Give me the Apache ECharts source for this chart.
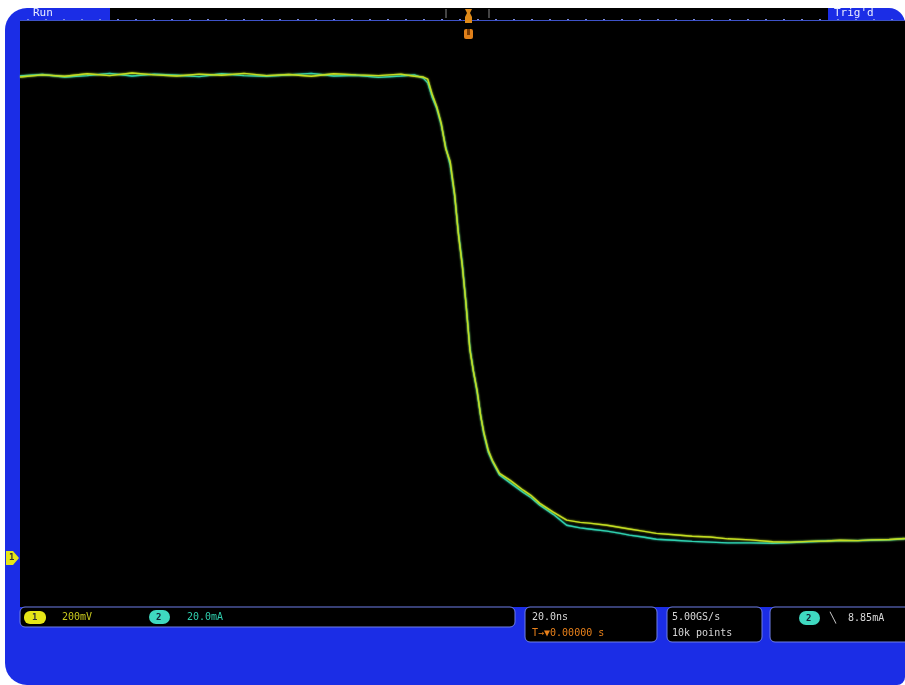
<!DOCTYPE html>
<html>
<head>
<meta charset="utf-8">
<script src="https://cdn.jsdelivr.net/npm/echarts@6/dist/echarts.min.js"></script>
<style>html,body{margin:0;padding:0;background:#fff;}#c{width:905px;height:685px;}</style>
</head>
<body>
<div id="c"></div>
<script>
// time axis (ns), 20 ns/div, trigger at 0
const timeNs = [-100,-95,-90,-85,-80,-75,-70,-65,-60,-55,-50,-45,-40,-35,-30,-25,-20,-15,-12,-10,-9,-8,-7,-6,-5,-4,-3,-2.2,-1.3,-0.5,0.4,1.2,2,2.8,3.5,4.5,5.4,7,9.4,12.3,14,16,19,22,25,27,31,34,36,39,42,46,50,54,58,63,68,72,76,80,83,87,90,94,97.5];
// channel 1 (mV, 200 mV/div)
const ch1mV = [1316,1322,1318,1325,1320,1327,1322,1319,1324,1321,1326,1320,1323,1318,1325,1322,1320,1324,1318,1316,1310,1268,1235,1190,1120,1085,995,890,800,700,570,510,460,390,345,295,268,232,213,186,172,150,126,104,98,96,90,84,80,74,68,64,60,58,53,50,45,44,46,47,49,48,50,51,54];
// channel 2 (mA, 20 mA/div)
const ch2mA = [131.9,132.3,131.6,132.0,132.6,131.9,132.4,132.1,131.7,132.5,132.0,131.8,132.2,132.6,131.9,132.1,131.5,131.9,132.2,131.3,130.0,126.0,123.0,118.5,112.5,107.5,99.0,89.5,80.5,70.0,57.5,51.0,45.5,39.0,34.0,29.0,26.5,22.8,20.6,18.0,16.6,14.5,12.0,9.0,8.3,8.0,7.4,6.8,6.3,5.8,5.2,4.9,4.6,4.4,4.2,4.2,4.1,4.3,4.5,4.7,4.8,4.8,4.9,5.0,5.3];
// readouts
const statusLeft = 'Run';
const statusRight = "Trig'd";
const ch1Scale = '200mV';
const ch2Scale = '20.0mA';
const timeScale = '20.0ns';
const trigPos = 'T\u2192\u25BC0.00000 s';
const sampleRate = '5.00GS/s';
const recordLen = '10k points';
const trigLevel = '\u2572  8.85mA';

const BLUE = '#1b2de6';
const YEL = '#c2dc22';
const CYA = '#2fcfae';
const FONT = '"DejaVu Sans Mono", monospace';

const chart = echarts.init(document.getElementById('c'), null, {renderer: 'canvas'});
const s1 = timeNs.map((t, i) => [t, ch1mV[i]]);
const s2 = timeNs.map((t, i) => [t, ch2mA[i]]);

function box(x, y, w, h) {
  return {type: 'rect', z: 5, shape: {x: x, y: y, width: w, height: h, r: 5},
    style: {fill: '#000', stroke: '#6f7fe8', lineWidth: 1}};
}
function txt(x, y, s, color, size) {
  return {type: 'text', z: 6, x: x, y: y,
    style: {text: s, fill: color, font: (size || 10) + 'px ' + FONT, textVerticalAlign: 'middle'}};
}

chart.setOption({
  backgroundColor: '#ffffff',
  animation: false,
  grid: {left: 20, top: 20, width: 885, height: 585, containLabel: false},
  xAxis: {type: 'value', min: -100, max: 97.5, show: false},
  yAxis: [
    {type: 'value', min: -128, max: 1472, show: false},
    {type: 'value', min: -12.8, max: 147.2, show: false}
  ],
  graphic: [
    {type: 'rect', z: -10, shape: {x: 5, y: 8, width: 900, height: 677, r: [22, 16, 8, 22]}, style: {fill: BLUE}},
    {type: 'rect', z: -9, shape: {x: 20, y: 20, width: 885, height: 587}, style: {fill: '#000'}},
    {type: 'rect', z: -9, shape: {x: 110, y: 8, width: 718, height: 12}, style: {fill: '#000'}},
    {type: 'line', z: -8, shape: {x1: 20, y1: 20.5, x2: 905, y2: 20.5}, style: {stroke: '#3d52c8', lineWidth: 1}},
    {type: 'line', z: -8, shape: {x1: 27, y1: 19.5, x2: 905, y2: 19.5}, style: {stroke: '#7d8ce0', lineWidth: 1, lineDash: [2, 16]}},
    txt(33, 13, statusLeft, '#e8ecff', 11),
    txt(834, 13, statusRight, '#e8ecff', 11),
    // trigger position marker
    {type: 'line', z: 4, shape: {x1: 446, y1: 9, x2: 446, y2: 18}, style: {stroke: '#888', lineWidth: 1}},
    {type: 'line', z: 4, shape: {x1: 489, y1: 9, x2: 489, y2: 18}, style: {stroke: '#888', lineWidth: 1}},
    {type: 'polygon', z: 4, shape: {points: [[465, 9], [472, 9], [470, 13], [472, 17], [472, 23], [465, 23], [465, 17], [467, 13]]}, style: {fill: '#e08a18'}},
    {type: 'rect', z: 4, shape: {x: 464, y: 29, width: 9, height: 10, r: 2}, style: {fill: '#e0801a'}},
    {type: 'rect', z: 4, shape: {x: 467, y: 29, width: 3, height: 6}, style: {fill: '#7a3a00'}},
    // ch1 ground marker
    {type: 'polygon', z: 4, shape: {points: [[6, 551], [13, 551], [19, 558], [13, 565], [6, 565]]}, style: {fill: '#e6e617'}},
    {type: 'text', z: 5, x: 9, y: 558, style: {text: '1', fill: '#333', font: 'bold 9px ' + FONT, textVerticalAlign: 'middle'}},
    // bottom readouts
    box(20, 607, 495, 20),
    {type: 'rect', z: 6, shape: {x: 24, y: 611, width: 22, height: 13, r: 6}, style: {fill: '#e6e617'}},
    {type: 'text', z: 7, x: 32, y: 617.5, style: {text: '1', fill: '#333', font: 'bold 9px ' + FONT, textVerticalAlign: 'middle'}},
    txt(62, 617, ch1Scale, '#c8c81e', 10),
    {type: 'rect', z: 6, shape: {x: 149, y: 610, width: 21, height: 14, r: 7}, style: {fill: '#3fd8c0'}},
    {type: 'text', z: 7, x: 156, y: 617.5, style: {text: '2', fill: '#123', font: 'bold 9px ' + FONT, textVerticalAlign: 'middle'}},
    txt(187, 617, ch2Scale, '#2fcfae', 10),
    box(525, 607, 132, 35),
    txt(532, 617, timeScale, '#d8d8d8', 10),
    txt(532, 633, trigPos, '#e8801a', 10),
    box(667, 607, 95, 35),
    txt(672, 617, sampleRate, '#d8d8d8', 10),
    txt(672, 633, recordLen, '#d8d8d8', 10),
    box(770, 607, 140, 35),
    {type: 'rect', z: 6, shape: {x: 799, y: 611, width: 21, height: 14, r: 7}, style: {fill: '#3fd8c0'}},
    {type: 'text', z: 7, x: 806, y: 618.5, style: {text: '2', fill: '#123', font: 'bold 9px ' + FONT, textVerticalAlign: 'middle'}},
    txt(830, 618, trigLevel, '#d8d8d8', 10)
  ],
  series: [
    {type: 'line', name: 'CH2', data: s2, yAxisIndex: 1, showSymbol: false, smooth: false, z: 2,
      lineStyle: {color: CYA, width: 1.4, shadowColor: CYA, shadowBlur: 2}},
    {type: 'line', name: 'CH1', data: s1, yAxisIndex: 0, showSymbol: false, smooth: false, z: 3,
      lineStyle: {color: YEL, width: 1.4, shadowColor: YEL, shadowBlur: 2}}
  ]
});
</script>
</body>
</html>
